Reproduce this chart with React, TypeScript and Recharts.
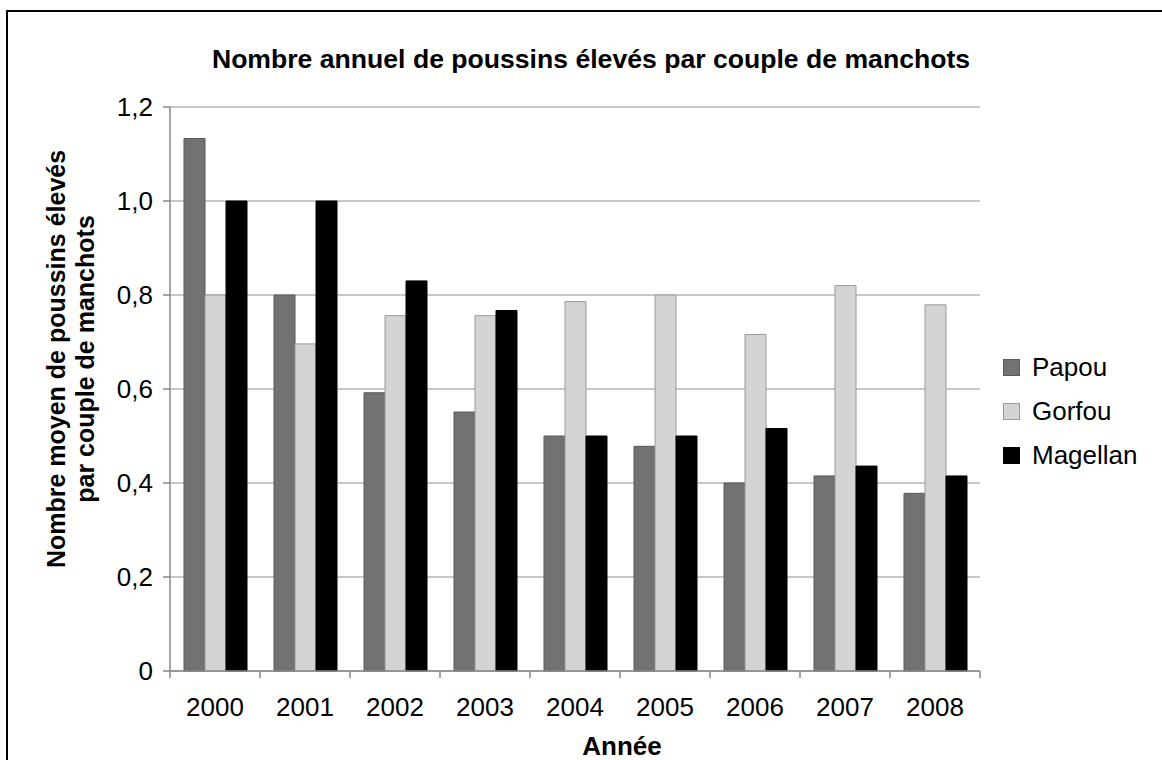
import React from 'react';
import { BarChart, Bar, XAxis, YAxis, CartesianGrid, Legend } from 'recharts';

const years = ['2000', '2001', '2002', '2003', '2004', '2005', '2006', '2007', '2008'];
const papou = [1.133, 0.8, 0.592, 0.551, 0.5, 0.478, 0.4, 0.415, 0.378];
const gorfou = [0.8, 0.696, 0.756, 0.756, 0.786, 0.8, 0.716, 0.82, 0.779];
const magellan = [1.0, 1.0, 0.83, 0.767, 0.5, 0.5, 0.516, 0.436, 0.415];
const yTicks = [0, 0.2, 0.4, 0.6, 0.8, 1.0, 1.2];
const yTickLabels = ['0', '0,2', '0,4', '0,6', '0,8', '1,0', '1,2'];
const seriesNames = ['Papou', 'Gorfou', 'Magellan'];
const seriesFills = ['#727272', '#d4d4d4', '#000000'];
const seriesStrokes = ['#5a5a5a', '#9a9a9a', '#000000'];

const data = years.map((y, i) => ({
  year: y,
  Papou: papou[i],
  Gorfou: gorfou[i],
  Magellan: magellan[i],
}));

const W = 1162;
const H = 760;
const PLOT_LEFT = 170;
const PLOT_RIGHT = 980;
const PLOT_TOP = 107;
const PLOT_BOTTOM = 671;
const Y_AXIS_W = 110;
const X_AXIS_H = 80;
const BAND = (PLOT_RIGHT - PLOT_LEFT) / years.length;
const FONT = '"Liberation Sans", Arial, sans-serif';
const AXIS_GRAY = '#8a8a8a';

const XTick = (props: any) => {
  const { x, y, payload } = props;
  const half = BAND / 2;
  const isLast = payload.value === years[years.length - 1];
  return (
    <g>
      <line x1={x - half} x2={x - half} y1={y - 7} y2={y} stroke={AXIS_GRAY} strokeWidth={1.5} />
      {isLast && <line x1={x + half} x2={x + half} y1={y - 7} y2={y} stroke={AXIS_GRAY} strokeWidth={1.5} />}
      <text x={x} y={y + 38} textAnchor="middle" fontSize={26} fill="#000" fontFamily={FONT}>
        {payload.value}
      </text>
    </g>
  );
};

const YLabel = (props: any) => {
  const vb = props.viewBox || { x: PLOT_LEFT - Y_AXIS_W, y: PLOT_TOP, height: PLOT_BOTTOM - PLOT_TOP };
  const cy = vb.y + vb.height / 2 - 30;
  const x1 = vb.x + 5;
  const x2 = vb.x + 34;
  return (
    <g>
      <text x={x1} y={cy} transform={`rotate(-90, ${x1}, ${cy})`} textAnchor="middle" fontSize={25} fontWeight="bold" fill="#000" fontFamily={FONT}>
        Nombre moyen de poussins élevés
      </text>
      <text x={x2} y={cy} transform={`rotate(-90, ${x2}, ${cy})`} textAnchor="middle" fontSize={25} fontWeight="bold" fill="#000" fontFamily={FONT}>
        par couple de manchots
      </text>
    </g>
  );
};

const XLabel = (props: any) => {
  const vb = props.viewBox || { x: PLOT_LEFT, y: PLOT_BOTTOM, width: PLOT_RIGHT - PLOT_LEFT };
  const cx = vb.x + vb.width / 2 + 47;
  return (
    <text x={cx} y={vb.y + 84} textAnchor="middle" fontSize={26} fontWeight="bold" fill="#000" fontFamily={FONT}>
      Année
    </text>
  );
};

const LegendContent = () => {
  return (
    <div style={{ fontFamily: FONT }}>
      {seriesNames.map((name, i) => (
        <div key={name} style={{ display: 'flex', alignItems: 'center', height: 44 }}>
          <div
            style={{
              width: 17,
              height: 17,
              background: seriesFills[i],
              border: `1px solid ${seriesStrokes[i]}`,
              boxSizing: 'border-box',
              marginRight: 12,
            }}
          />
          <span style={{ fontSize: 26, color: '#000', lineHeight: '26px' }}>{name}</span>
        </div>
      ))}
    </div>
  );
};

export default function App() {
  return (
    <div
      style={{
        position: 'fixed',
        left: 0,
        top: 0,
        width: W,
        height: H,
        overflow: 'hidden',
        background: '#fff',
        fontFamily: FONT,
      }}
    >
      <div
        style={{
          position: 'absolute',
          left: 6,
          top: 10,
          width: 1250,
          height: 850,
          border: '2px solid #000',
          boxSizing: 'border-box',
        }}
      />
      <div
        style={{
          position: 'absolute',
          left: 0,
          top: 46,
          width: 1182,
          textAlign: 'center',
          fontSize: 26.6,
          lineHeight: '26px',
          fontWeight: 'bold',
          color: '#000',
        }}
      >
        Nombre annuel de poussins élevés par couple de manchots
      </div>
      <div style={{ position: 'absolute', left: 0, top: 0 }}>
        <BarChart
          width={W}
          height={H}
          data={data}
          margin={{
            top: PLOT_TOP,
            right: W - PLOT_RIGHT,
            bottom: H - PLOT_BOTTOM - X_AXIS_H,
            left: PLOT_LEFT - Y_AXIS_W,
          }}
          barCategoryGap={14}
          barGap={0}
        >
          <CartesianGrid vertical={false} stroke="#b4b4b4" strokeWidth={1.5} />
          <XAxis
            dataKey="year"
            height={X_AXIS_H}
            interval={0}
            tickLine={false}
            tickSize={7}
            tickMargin={0}
            axisLine={{ stroke: AXIS_GRAY, strokeWidth: 1.5 }}
            tick={<XTick />}
            label={<XLabel />}
          />
          <YAxis
            width={Y_AXIS_W}
            domain={[0, 1.2]}
            ticks={yTicks}
            interval={0}
            tickSize={7}
            tickMargin={10}
            tickFormatter={(v: number, i: number) => yTickLabels[i]}
            tick={{ fontSize: 26, fill: '#000' }}
            tickLine={{ stroke: AXIS_GRAY, strokeWidth: 1.5 }}
            axisLine={{ stroke: AXIS_GRAY, strokeWidth: 1.5 }}
            label={<YLabel />}
          />
          <Legend
            layout="vertical"
            align="center"
            verticalAlign="middle"
            wrapperStyle={{ left: 1003, top: 345, width: 150 }}
            content={<LegendContent />}
          />
          {seriesNames.map((name, i) => (
            <Bar
              key={name}
              dataKey={name}
              fill={seriesFills[i]}
              stroke={seriesStrokes[i]}
              strokeWidth={1}
              isAnimationActive={false}
            />
          ))}
        </BarChart>
      </div>
    </div>
  );
}
